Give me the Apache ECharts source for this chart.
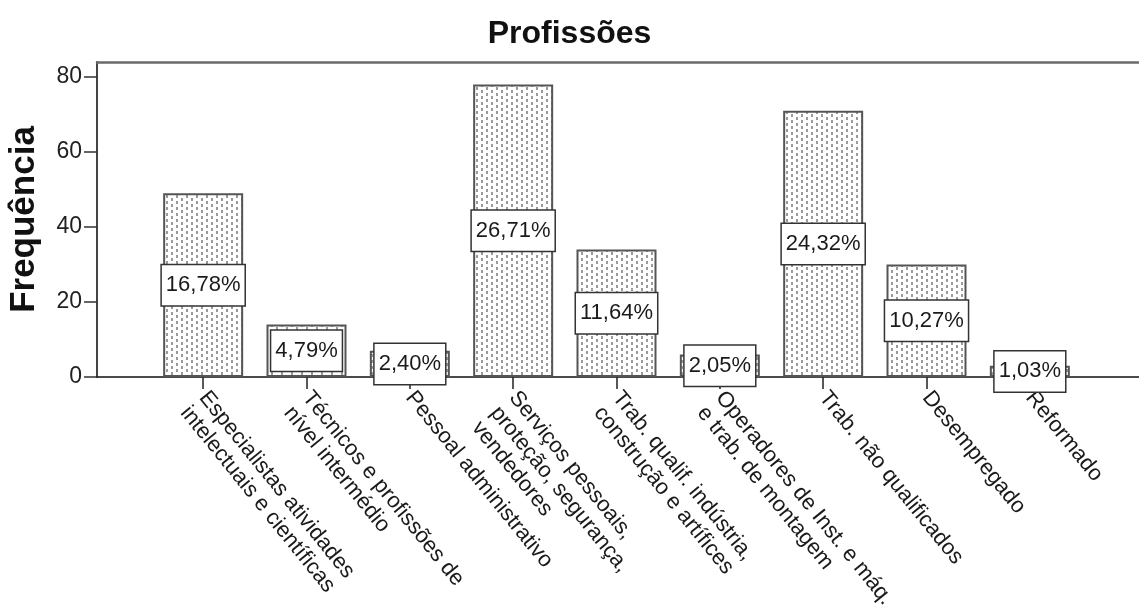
<!DOCTYPE html>
<html>
<head>
<meta charset="utf-8">
<script src="https://cdn.jsdelivr.net/npm/echarts@6/dist/echarts.min.js"></script>
<style>
  html, body { margin: 0; padding: 0; background: #fff; }
  #chart { width: 1139px; height: 610px; }
</style>
</head>
<body>
<div id="chart"></div>
<script>
const categories = [
  'Especialistas atividades\nintelectuais e científicas',
  'Técnicos e profissões de\nnível intermédio',
  'Pessoal administrativo',
  'Serviços pessoais,\nproteção, segurança,\nvendedores',
  'Trab. qualif. indústria,\nconstrução e artífices',
  'Operadores de Inst. e máq.\ne trab. de montagem',
  'Trab. não qualificados',
  'Desempregado',
  'Reformado'
];
const frequencies = [49, 14, 7, 78, 34, 6, 71, 30, 3];
const yTicks = [0, 20, 40, 60, 80];

const total = frequencies.reduce((a, b) => a + b, 0);
const font = "'Liberation Sans', Arial, sans-serif";

// dotted fill like the SPSS bars
const tile = document.createElement('canvas');
tile.width = 10;
tile.height = 6;
const tctx = tile.getContext('2d');
tctx.fillStyle = '#fff';
tctx.fillRect(0, 0, 10, 6);
tctx.fillStyle = '#9a9a9a';
tctx.fillRect(1, 0, 2, 3);
tctx.fillRect(6, 3, 2, 3);

const chart = echarts.init(document.getElementById('chart'));
chart.setOption({
  backgroundColor: '#fff',
  animation: false,
  title: {
    text: 'Profissões',
    left: 'center',
    top: 13,
    textStyle: { fontFamily: font, fontSize: 32, fontWeight: 'bold', color: '#111' }
  },
  grid: [
    { left: 97, right: 0, top: 62, bottom: 233, outerBoundsMode: 'none' },
    { left: 151.5, right: 57.5, top: 62, bottom: 233, outerBoundsMode: 'none' }
  ],
  xAxis: [
    {
      gridIndex: 0, type: 'value', min: 0, max: 1, position: 'bottom',
      axisLine: { show: true, lineStyle: { color: '#111', width: 1.5 } },
      axisTick: { show: false }, axisLabel: { show: false }, splitLine: { show: false }
    },
    {
      gridIndex: 0, type: 'value', min: 0, max: 1, position: 'top',
      axisLine: { show: true, lineStyle: { color: '#6a6a6a', width: 2.5 } },
      axisTick: { show: false }, axisLabel: { show: false }, splitLine: { show: false }
    },
    {
      gridIndex: 1, type: 'category', data: categories,
      axisLine: { show: false },
      axisTick: { show: true, alignWithLabel: true, length: 12, lineStyle: { color: '#222', width: 1.5 } },
      axisLabel: {
        interval: 0,
        rotate: -51,
        margin: 17,
        verticalAlign: 'top',
        padding: [-12, 0, 0, 0],
        fontFamily: font,
        fontSize: 22,
        lineHeight: 24,
        color: '#1a1a1a'
      }
    }
  ],
  yAxis: [
    {
      gridIndex: 0, type: 'value', min: 0, max: 84,
      name: 'Frequência',
      nameLocation: 'middle',
      nameGap: 55,
      nameRotate: 90,
      nameTextStyle: { fontFamily: font, fontSize: 35, fontWeight: 'bold', color: '#111' },
      axisLine: { show: true, lineStyle: { color: '#444', width: 2 } },
      axisTick: { show: true, length: 13, customValues: yTicks, lineStyle: { color: '#333', width: 1.5 } },
      axisLabel: { customValues: yTicks, margin: 15, fontFamily: font, fontSize: 23, color: '#222' },
      splitLine: { show: false }
    },
    {
      gridIndex: 1, type: 'value', min: 0, max: 84, show: false
    }
  ],
  series: [
    {
      type: 'bar',
      xAxisIndex: 2,
      yAxisIndex: 1,
      data: frequencies,
      barWidth: 80,
      itemStyle: {
        color: { image: tile, repeat: 'repeat' },
        borderColor: '#555',
        borderWidth: 2
      },
      label: {
        show: true,
        position: 'inside',
        formatter: p => (p.value / total * 100).toFixed(2).replace('.', ',') + '%',
        fontFamily: font,
        fontSize: 22,
        color: '#1a1a1a',
        backgroundColor: '#fff',
        borderColor: '#333',
        borderWidth: 1.5,
        padding: [9, 4]
      }
    }
  ]
});
</script>
</body>
</html>
